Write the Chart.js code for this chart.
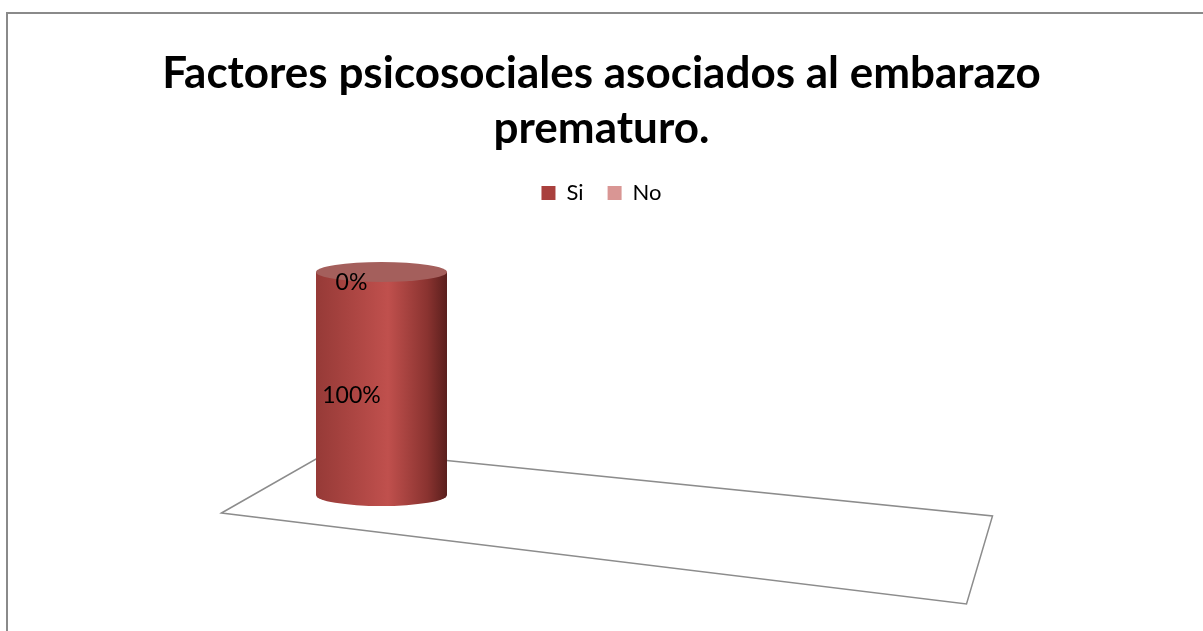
<!DOCTYPE html>
<html>
<head>
<meta charset="utf-8">
<script src="https://cdn.jsdelivr.net/npm/chart.js@4.4.0/dist/chart.umd.min.js"></script>
<style>
  html, body { margin: 0; padding: 0; background: #fff; overflow: hidden; }
  #wrap { position: relative; width: 1203px; height: 631px; }
  #frame { position: absolute; left: 6px; top: 12px; width: 1400px; height: 800px; border: 2px solid #8a8a8a; box-sizing: border-box; pointer-events: none; }
  canvas { position: absolute; left: 0; top: 0; }
</style>
</head>
<body>
<div id="wrap">
  <canvas id="chart" width="1203" height="631"></canvas>
  <div id="frame"></div>
</div>
<script>
const titleLines = ['Factores psicosociales asociados al embarazo', 'prematuro.'];
const categories = [''];
const seriesNames = ['Si', 'No'];
const siValues = [100];
const noValues = [0];
const seriesColors = ['#a9403d', '#d99694'];

const FONT = 'Lato, "Open Sans", sans-serif';

// draws the floor plane behind the bar, and the bars as cylinders
const cylinderPlugin = {
  id: 'cylinder',
  beforeDatasetsDraw(chart) {
    const el = chart.getDatasetMeta(0).data[0];
    if (!el) return;
    const ctx = chart.ctx;
    const cx = el.x, base = el.base;
    ctx.save();
    ctx.strokeStyle = '#8c8c8c';
    ctx.lineWidth = 1.5;
    ctx.beginPath();
    ctx.moveTo(cx - 160, base + 18);
    ctx.lineTo(cx - 48, base - 46);
    ctx.lineTo(cx + 611, base + 21);
    ctx.lineTo(cx + 585, base + 109);
    ctx.closePath();
    ctx.stroke();
    ctx.restore();
  },
  beforeDatasetDraw(chart, args) {
    const ctx = chart.ctx;
    const meta = args.meta;
    meta.data.forEach(el => {
      const h = el.base - el.y;
      if (h <= 0.5) return;
      const w = el.width;
      const l = el.x - w / 2, r = el.x + w / 2;
      const ryTop = 10, ryBot = 11;
      const g = ctx.createLinearGradient(l, 0, r, 0);
      g.addColorStop(0, '#963a37');
      g.addColorStop(0.55, '#c0504d');
      g.addColorStop(0.85, '#8a3330');
      g.addColorStop(1, '#5a1f1d');
      ctx.save();
      ctx.fillStyle = g;
      ctx.beginPath();
      ctx.moveTo(l, el.y);
      ctx.lineTo(l, el.base);
      ctx.ellipse(el.x, el.base, w / 2, ryBot, 0, Math.PI, 0, true);
      ctx.lineTo(r, el.y);
      ctx.closePath();
      ctx.fill();
      // top cap
      ctx.fillStyle = '#a45f5c';
      ctx.beginPath();
      ctx.ellipse(el.x, el.y, w / 2, ryTop, 0, 0, Math.PI * 2);
      ctx.fill();
      ctx.restore();
    });
    return false;
  },
  afterDatasetsDraw(chart) {
    const ctx = chart.ctx;
    ctx.save();
    ctx.fillStyle = '#000';
    ctx.font = '23px ' + FONT;
    ctx.textAlign = 'center';
    ctx.textBaseline = 'middle';
    chart.data.datasets.forEach((ds, i) => {
      chart.getDatasetMeta(i).data.forEach((el, j) => {
        const v = ds.data[j];
        const y = (el.y + el.base) / 2 + (v > 0 ? 12 : 11);
        ctx.fillText(v + '%', el.x - 30, y);
      });
    });
    ctx.restore();
  }
};

new Chart(document.getElementById('chart'), {
  type: 'bar',
  data: {
    labels: categories,
    datasets: [
      { label: seriesNames[0], data: siValues, backgroundColor: seriesColors[0] },
      { label: seriesNames[1], data: noValues, backgroundColor: seriesColors[1] }
    ]
  },
  options: {
    responsive: false,
    devicePixelRatio: 1,
    animation: false,
    layout: { padding: { bottom: 136 } },
    datasets: { bar: { barThickness: 131 } },
    scales: {
      x: { stacked: true, display: false },
      y: {
        stacked: true, min: 0, max: 126,
        position: 'left',
        ticks: { display: false }, grid: { display: false }, border: { display: false },
        afterFit(s) { s.width = 316; }
      },
      yR: {
        position: 'right',
        ticks: { display: false }, grid: { display: false }, border: { display: false },
        afterFit(s) { s.width = 756; }
      }
    },
    plugins: {
      tooltip: { enabled: false },
      title: {
        display: true,
        text: titleLines,
        color: '#000',
        font: { family: FONT, size: 44, weight: 'bold', lineHeight: 1.25 },
        padding: { top: 46, bottom: 2 }
      },
      legend: {
        position: 'top',
        labels: {
          color: '#000',
          font: { family: FONT, size: 22 },
          boxWidth: 14, boxHeight: 14,
          padding: 24
        }
      }
    }
  },
  plugins: [cylinderPlugin]
});
</script>
</body>
</html>
